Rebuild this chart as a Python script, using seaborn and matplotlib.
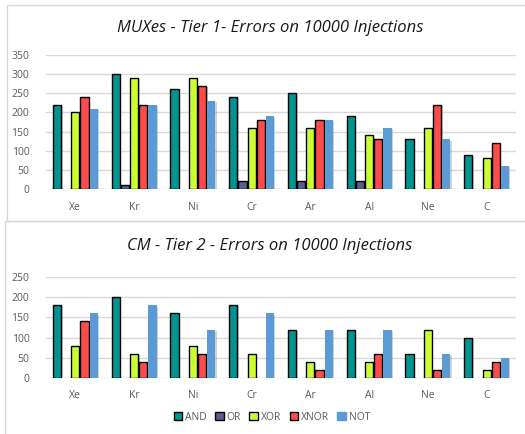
import pandas as pd
import matplotlib
matplotlib.use("Agg")
import matplotlib.pyplot as plt
import matplotlib.patheffects as pe
from matplotlib.patches import Rectangle, Patch
import seaborn as sns

# Data
elements = ["Xe", "Kr", "Ni", "Cr", "Ar", "Al", "Ne", "C"]
gates = ["AND", "OR", "XOR", "XNOR", "NOT"]

tier1_and = [220, 300, 260, 240, 250, 190, 130, 90]
tier1_or = [0, 10, 0, 20, 20, 20, 0, 0]
tier1_xor = [200, 290, 290, 160, 160, 140, 160, 80]
tier1_xnor = [240, 220, 270, 180, 180, 130, 220, 120]
tier1_not = [210, 220, 230, 190, 180, 160, 130, 60]

tier2_and = [180, 200, 160, 180, 120, 120, 60, 100]
tier2_or = [0, 0, 0, 0, 0, 0, 0, 0]
tier2_xor = [80, 60, 80, 60, 40, 40, 120, 20]
tier2_xnor = [140, 40, 60, 0, 20, 60, 20, 40]
tier2_not = [160, 180, 120, 160, 120, 120, 60, 50]

colors = ["#009490", "#5E5C8E", "#CCFF33", "#FF4B4B", "#5B9BD5"]
edge = ["black", "black", "black", "black", "none"]


def long_df(series):
    rows = []
    for g, vals in zip(gates, series):
        for e, v in zip(elements, vals):
            rows.append({"Element": e, "Gate": g, "Errors": v})
    return pd.DataFrame(rows)


df1 = long_df([tier1_and, tier1_or, tier1_xor, tier1_xnor, tier1_not])
df2 = long_df([tier2_and, tier2_or, tier2_xor, tier2_xnor, tier2_not])

sns.set_style("white")
plt.rcParams["font.family"] = ["Open Sans", "DejaVu Sans"]

W, H = 525, 434
fig = plt.figure(figsize=(W / 100, H / 100), dpi=100)

# panel frames (right side runs off the picture as in the reference)
fig.patches.append(Rectangle((7 / W, 1 - 221 / H), (W + 10) / W, 216 / H,
                             transform=fig.transFigure, fill=False,
                             edgecolor="#D9D9D9", lw=1))
fig.patches.append(Rectangle((5 / W, -0.01), (W + 10) / W, 1 - 221 / H + 0.01,
                             transform=fig.transFigure, fill=False,
                             edgecolor="#D9D9D9", lw=1))


def draw(ax, df, ymax, title, title_y):
    sns.barplot(data=df, x="Element", y="Errors", hue="Gate", hue_order=gates,
                palette=colors, width=0.78, gap=0.1, saturation=1,
                legend=False, ax=ax)
    for cont, ec in zip(ax.containers, edge):
        for bar in cont:
            if bar.get_height() <= 0:
                bar.set_visible(False)
                continue
            bar.set_edgecolor(ec)
            bar.set_linewidth(1.0 if ec != "none" else 0)
            bar.set_path_effects([pe.SimplePatchShadow(offset=(1, -1), shadow_rgbFace="#808080", alpha=0.35),
                                  pe.Normal()])
    ax.set_ylim(0, ymax)
    ax.set_yticks(range(0, ymax + 1, 50))
    ax.yaxis.grid(True, color="#D9D9D9", lw=1)
    ax.set_axisbelow(True)
    for s in ax.spines.values():
        s.set_visible(False)
    ax.set_xlabel("")
    ax.set_ylabel("")
    ax.tick_params(axis="both", length=0, labelsize=7.5, labelcolor="#595959")
    ax.tick_params(axis="x", pad=9)
    ax.tick_params(axis="y", pad=12)
    fig.text(270 / W, 1 - title_y / H, title, ha="center", va="center",
             fontsize=12, style="italic", color="#1a1a1a")


ax1 = fig.add_axes([46 / W, 1 - 189 / H, 470 / W, 134 / H])
draw(ax1, df1, 350, "MUXes - Tier 1- Errors on 10000 Injections", 28)

ax2 = fig.add_axes([46 / W, 1 - 378 / H, 470 / W, 101 / H])
draw(ax2, df2, 250, "CM - Tier 2 - Errors on 10000 Injections", 246)

handles = [Patch(facecolor=c, edgecolor=("black" if e != "none" else c), lw=1)
           for c, e in zip(colors, edge)]
fig.legend(handles, gates, loc="center", bbox_to_anchor=(272 / W, 1 - 417 / H),
           ncol=5, frameon=False, fontsize=7.5, handlelength=0.8, handleheight=0.8,
           handletextpad=0.3, columnspacing=0.8, labelcolor="#595959")

fig.savefig("out.png", dpi=100)
